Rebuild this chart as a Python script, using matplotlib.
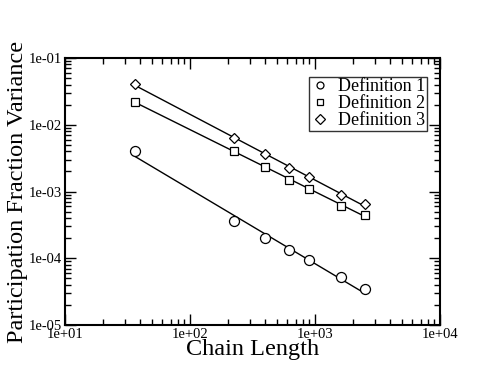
import numpy as np
import matplotlib
matplotlib.use("Agg")
import matplotlib.pyplot as plt
from matplotlib.ticker import FuncFormatter, LogLocator

plt.rcParams['font.family'] = ['Liberation Serif', 'DejaVu Serif']

# chain lengths and participation fraction variance
chain_length = [36, 225, 400, 625, 900, 1600, 2500]
def1 = [4.05e-3, 3.6e-4, 2.03e-4, 1.31e-4, 9.4e-5, 5.2e-5, 3.46e-5]
def2 = [2.19e-2, 4.05e-3, 2.35e-3, 1.49e-3, 1.09e-3, 6.07e-4, 4.5e-4]
def3 = [4.03e-2, 6.4e-3, 3.6e-3, 2.25e-3, 1.67e-3, 8.9e-4, 6.5e-4]
labels = ["Definition 1", "Definition 2", "Definition 3"]
markers = ["o", "s", "D"]

fig = plt.figure(figsize=(4.95, 3.83), dpi=100)
ax = fig.add_axes([0.1313, 0.1514, 0.7576, 0.6972])

x = np.array(chain_length, dtype=float)
for ys, lab, m in zip([def1, def2, def3], labels, markers):
    ys = np.array(ys)
    ms = 7.2 if m == "o" else (6.2 if m == "s" else 5.6)
    ax.plot(x, ys, linestyle="none", marker=m, markersize=ms,
            markerfacecolor="white", markeredgecolor="black",
            markeredgewidth=0.9, label=lab, zorder=3)
    # power-law fit line in log space
    p = np.polyfit(np.log10(x), np.log10(ys), 1)
    ax.plot(x, 10 ** np.polyval(p, np.log10(x)), color="black", lw=1.0, zorder=2)

ax.set_xscale("log")
ax.set_yscale("log")
ax.set_xlim(10, 1e4)
ax.set_ylim(1e-5, 1e-1)

fmt = FuncFormatter(lambda v, pos: f"{v:.0e}")
ax.xaxis.set_major_formatter(fmt)
ax.yaxis.set_major_formatter(fmt)
ax.xaxis.set_major_locator(LogLocator(base=10, numticks=10))
ax.yaxis.set_major_locator(LogLocator(base=10, numticks=10))
ax.xaxis.set_minor_locator(LogLocator(base=10, subs=np.arange(2, 10), numticks=20))
ax.yaxis.set_minor_locator(LogLocator(base=10, subs=np.arange(2, 10), numticks=20))

ax.tick_params(which="both", direction="in", top=True, right=True, width=1.0)
ax.tick_params(which="major", length=8, labelsize=10.5, pad=2)
ax.tick_params(which="minor", length=4)
for s in ax.spines.values():
    s.set_linewidth(1.5)

ax.set_xlabel("Chain Length", fontsize=17.5, labelpad=-1)
ax.set_ylabel("Participation Fraction Variance", fontsize=17.5, labelpad=1)

leg = ax.legend(loc="upper right", bbox_to_anchor=(0.965, 0.93), fontsize=13,
                frameon=True, fancybox=False, handlelength=1.0,
                handletextpad=0.5, borderpad=0.1, labelspacing=0.0,
                borderaxespad=0)
leg.get_frame().set_edgecolor("black")
leg.get_frame().set_linewidth(1.0)
for h in leg.legend_handles:
    h.set_markersize(5)

fig.savefig("out.png", dpi=100)
